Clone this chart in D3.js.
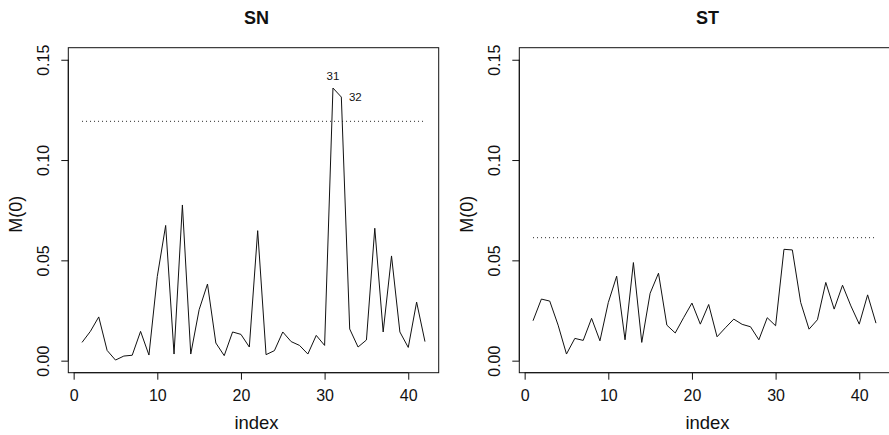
<!DOCTYPE html>
<html>
<head>
<meta charset="utf-8">
<script src="https://cdn.jsdelivr.net/npm/d3@7"></script>
<style>
  html, body { margin: 0; padding: 0; background: #fff; }
  svg { display: block; font-family: "Liberation Sans", Arial, Helvetica, sans-serif; }
</style>
</head>
<body>
<svg id="chart" width="889" height="435"></svg>
<script>
// ---- data ----
const indices = [1,2,3,4,5,6,7,8,9,10,11,12,13,14,15,16,17,18,19,20,21,22,23,24,25,26,27,28,29,30,31,32,33,34,35,36,37,38,39,40,41,42];
const snValues = [0.0091,0.0146,0.0218,0.0051,0.0003,0.0023,0.0027,0.0146,0.0028,0.0420,
                  0.0674,0.0033,0.0776,0.0033,0.0254,0.0382,0.0088,0.0025,0.0143,0.0131,
                  0.0068,0.0648,0.0030,0.0050,0.0143,0.0095,0.0076,0.0033,0.0126,0.0076,
                  0.1359,0.1314,0.0158,0.0068,0.0103,0.0660,0.0143,0.0522,0.0143,0.0066,
                  0.0292,0.0095];
const stValues = [0.0199,0.0307,0.0297,0.0177,0.0033,0.0111,0.0101,0.0211,0.0099,0.0290,
                  0.0421,0.0104,0.0489,0.0091,0.0336,0.0436,0.0177,0.0138,0.0214,0.0287,
                  0.0182,0.0280,0.0119,0.0164,0.0207,0.0181,0.0169,0.0104,0.0214,0.0174,
                  0.0555,0.0552,0.0290,0.0157,0.0204,0.0390,0.0257,0.0376,0.0273,0.0182,
                  0.0328,0.0187];
const snThreshold = 0.1193;
const stThreshold = 0.0613;
const panelTitles = ["SN", "ST"];
const xTicks = [0, 10, 20, 30, 40];
const yTicks = [0.00, 0.05, 0.10, 0.15];
const yTickLabels = ["0.00", "0.05", "0.10", "0.15"];
const snLabelled = [31, 32];
const xLabel = "index";
const yLabel = "M(0)";

// ---- layout ----
const svg = d3.select("#chart");
const panelOffsets = [0, 451];
const plotL = 68.3, plotR = 438.7, plotT = 47.7, plotB = 372.7;
const ink = "#111";

function drawPanel(offset, title, values, threshold, labelled) {
  const g = svg.append("g").attr("transform", `translate(${offset},0)`);
  const x = d3.scaleLinear().domain([-0.64, 43.64]).range([plotL, plotR]);
  const y = d3.scaleLinear().domain([-0.006, 0.156]).range([plotB, plotT]);

  // box
  g.append("rect")
    .attr("x", plotL).attr("y", plotT)
    .attr("width", plotR - plotL).attr("height", plotB - plotT)
    .attr("fill", "none").attr("stroke", ink).attr("stroke-width", 1);

  // x axis
  const xa = g.append("g").attr("transform", `translate(0,${plotB})`)
    .call(d3.axisBottom(x).tickValues(xTicks).tickFormat(d3.format("d"))
      .tickSize(7).tickSizeOuter(0).tickPadding(10));
  xa.select(".domain").remove();
  xa.append("line").attr("x1", x(xTicks[0])).attr("x2", x(xTicks[xTicks.length-1]))
    .attr("stroke", ink);
  xa.selectAll(".tick line").attr("stroke", ink);
  xa.selectAll("text").attr("fill", ink).attr("font-size", 16)
    .attr("font-family", "Liberation Sans, Arial, sans-serif");

  // y axis
  const ya = g.append("g").attr("transform", `translate(${plotL},0)`)
    .call(d3.axisLeft(y).tickValues(yTicks).tickFormat((d, i) => yTickLabels[i])
      .tickSize(7).tickSizeOuter(0));
  ya.select(".domain").remove();
  ya.append("line").attr("y1", y(yTicks[0])).attr("y2", y(yTicks[yTicks.length-1]))
    .attr("stroke", ink);
  ya.selectAll(".tick line").attr("stroke", ink);
  ya.selectAll("text")
    .attr("x", null).attr("dy", "0.35em")
    .attr("text-anchor", "middle")
    .attr("transform", "translate(-24.6,0) rotate(-90)")
    .attr("fill", ink).attr("font-size", 16)
    .attr("font-family", "Liberation Sans, Arial, sans-serif");

  // threshold (dotted)
  g.append("line")
    .attr("x1", x(indices[0])).attr("x2", x(indices[indices.length-1]))
    .attr("y1", y(threshold)).attr("y2", y(threshold))
    .attr("stroke", ink).attr("stroke-width", 0.9)
    .attr("stroke-dasharray", "1,3");

  // data line
  const line = d3.line().x((d, i) => x(indices[i])).y(d => y(d));
  g.append("path").datum(values)
    .attr("d", line).attr("fill", "none")
    .attr("stroke", ink).attr("stroke-width", 1).attr("stroke-linejoin", "miter");

  // point labels
  labelled.forEach((idx, k) => {
    const i = indices.indexOf(idx);
    const t = g.append("text").text(String(idx))
      .attr("font-size", 11.5).attr("fill", ink);
    if (k === 0) {
      t.attr("x", x(idx)).attr("y", y(values[i]) - 7.7).attr("text-anchor", "middle");
    } else {
      t.attr("x", x(idx) + 7.6).attr("y", y(values[i])).attr("dy", "0.35em").attr("text-anchor", "start");
    }
  });

  // title
  g.append("text").text(title)
    .attr("x", (plotL + plotR) / 2 + 3).attr("y", 23.5)
    .attr("text-anchor", "middle").attr("font-weight", "bold")
    .attr("font-size", 18).attr("fill", ink);

  // axis labels
  g.append("text").text(xLabel)
    .attr("x", (plotL + plotR) / 2 + 3).attr("y", 429.3)
    .attr("text-anchor", "middle").attr("font-size", 18.5).attr("fill", ink);
  g.append("text").text(yLabel)
    .attr("transform", `translate(15.8,${(plotT + plotB) / 2 + 4}) rotate(-90)`)
    .attr("dy", "0.35em")
    .attr("text-anchor", "middle").attr("font-size", 18).attr("fill", ink);
}

drawPanel(panelOffsets[0], panelTitles[0], snValues, snThreshold, snLabelled);
drawPanel(panelOffsets[1], panelTitles[1], stValues, stThreshold, []);
</script>
</body>
</html>
